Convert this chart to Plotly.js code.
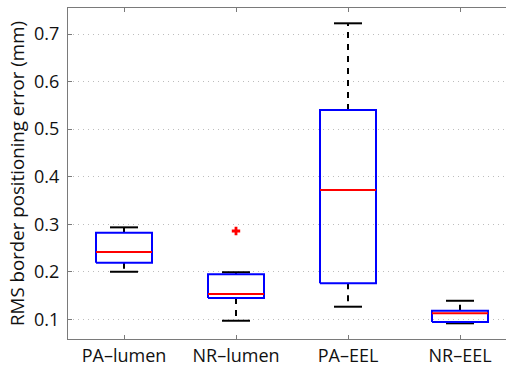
<!DOCTYPE html>
<html>
<head>
<meta charset="utf-8">
<script src="https://cdn.plot.ly/plotly-3.0.1.min.js"></script>
<style>
html, body { margin: 0; padding: 0; overflow: hidden; background: #fff; }
#chart { width: 518px; height: 369px; }
</style>
</head>
<body>
<div id="chart"></div>
<script>
// Data
const categories = ['PA\u2013lumen', 'NR\u2013lumen', 'PA\u2013EEL', 'NR\u2013EEL'];
const lowerWhisker = [0.200, 0.097, 0.1265, 0.0916];
const q1 = [0.219, 0.1448, 0.1757, 0.0943];
const medians = [0.2415, 0.153, 0.372, 0.1126];
const q3 = [0.282, 0.1947, 0.540, 0.118];
const upperWhisker = [0.2934, 0.199, 0.7225, 0.139];
const outlierCategory = [2];
const outlierValues = [0.2857];
const yTicks = [0.1, 0.2, 0.3, 0.4, 0.5, 0.6, 0.7];

const positions = categories.map((c, i) => i + 1);
const boxHalf = 0.25;
const capHalf = 0.125;

const boxX = [], boxY = [], medX = [], medY = [], whX = [], whY = [], capX = [], capY = [];
positions.forEach((p, i) => {
  boxX.push(p - boxHalf, p + boxHalf, p + boxHalf, p - boxHalf, p - boxHalf, null);
  boxY.push(q1[i], q1[i], q3[i], q3[i], q1[i], null);
  medX.push(p - boxHalf, p + boxHalf, null);
  medY.push(medians[i], medians[i], null);
  whX.push(p, p, null, p, p, null);
  whY.push(q3[i], upperWhisker[i], null, q1[i], lowerWhisker[i], null);
  capX.push(p - capHalf, p + capHalf, null, p - capHalf, p + capHalf, null);
  capY.push(upperWhisker[i], upperWhisker[i], null, lowerWhisker[i], lowerWhisker[i], null);
});

const traces = [
  { x: whX, y: whY, mode: 'lines', line: { color: '#000', width: 2, dash: '6px,6px' }, hoverinfo: 'skip' },
  { x: capX, y: capY, mode: 'lines', line: { color: '#000', width: 2 }, hoverinfo: 'skip' },
  { x: boxX, y: boxY, mode: 'lines', line: { color: '#0000ff', width: 2 }, hoverinfo: 'skip' },
  { x: medX, y: medY, mode: 'lines', line: { color: '#ff0000', width: 2 }, hoverinfo: 'skip' },
  { x: outlierCategory, y: outlierValues, mode: 'markers',
    marker: { symbol: 'cross', size: 7, color: '#ff0000' }, hoverinfo: 'skip' }
];

const axisCommon = {
  showline: true, mirror: 'ticks', linecolor: '#7a7a7a', linewidth: 1,
  ticks: 'inside', ticklen: 4, tickcolor: '#7a7a7a', tickwidth: 1,
  zeroline: false
};

const layout = {
  width: 518, height: 369,
  margin: { l: 68, r: 2, t: 8, b: 30 },
  showlegend: false,
  paper_bgcolor: '#fff', plot_bgcolor: '#fff',
  xaxis: Object.assign({}, axisCommon, {
    range: [0.5, 4.5],
    tickvals: positions, ticktext: categories,
    showgrid: false,
    tickfont: { family: 'Open Sans', size: 18, color: '#111' }
  }),
  yaxis: Object.assign({}, axisCommon, {
    range: [0.0586, 0.7547],
    tickvals: yTicks, ticktext: yTicks.map(v => v.toFixed(1)),
    showgrid: true, gridcolor: '#bdbdbd', gridwidth: 1, griddash: '1px,4px',
    ticklabelstandoff: 4,
    tickfont: { family: 'Open Sans', size: 18, color: '#111' },
    title: { text: 'RMS border positioning error (mm)', font: { family: 'Open Sans', size: 18.7, color: '#111' }, standoff: 4 }
  })
};

Plotly.newPlot('chart', traces, layout, { staticPlot: true, displayModeBar: false });
</script>
</body>
</html>
